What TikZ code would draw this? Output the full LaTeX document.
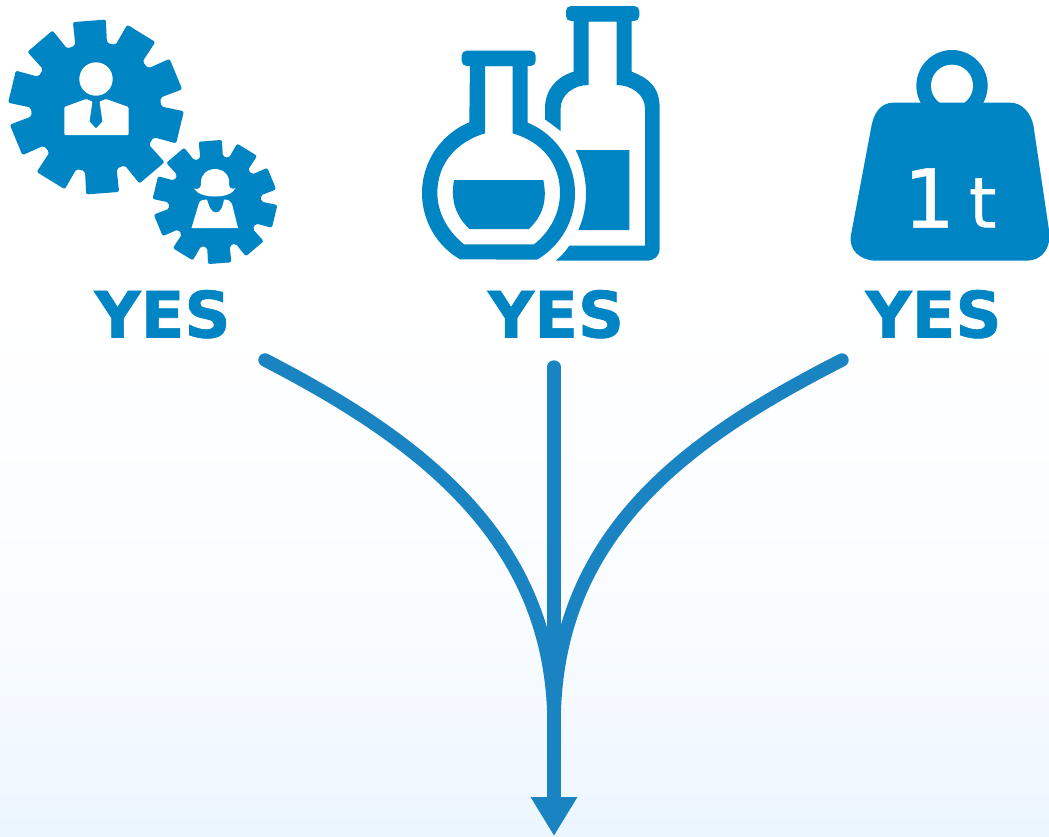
\documentclass[tikz,border=0pt]{standalone}
\usepackage{fontspec}
\setmainfont{DejaVu Sans}
\newfontfamily\heavyfont{DejaVu Sans}[BoldFeatures={FakeBold=1}]
\newfontfamily\tonnefont{DejaVu Sans}[FakeBold=0.6]
\usetikzlibrary{arrows.meta}
\definecolor{iconblue}{HTML}{0085C4}
\definecolor{flowblue}{HTML}{1A84C2}
\definecolor{midblue}{HTML}{F9FCFF}
\definecolor{paleblue}{HTML}{ECF6FF}
\tikzset{
  yeslabel/.style={text=iconblue,font=\fontsize{64}{64}\heavyfont\bfseries,anchor=base,inner sep=0pt},
  flowline/.style={draw=flowblue,line width=13.4pt,line cap=round},
  icon/.style={fill=iconblue,draw=none},
  cutout/.style={fill=white,draw=none}
}
\newcommand{\gearbody}{%
  \fill[icon,rounded corners=2pt] (-108.5:65)
    \foreach \k [evaluate=\k as \a using -94.4+36*\k] in {0,...,9}{
      -- (\a-14.1:65) -- (\a-10.8:88) -- (\a+10.8:88) -- (\a+14.1:65)
    } -- cycle;}
\begin{document}
\begin{tikzpicture}[x=1pt,y=-1pt]
\useasboundingbox (0,0) rectangle (1049,836);
\fill[white] (0,0) rectangle (1049,302);
\shade[top color=white,bottom color=midblue,draw=none] (0,300) rectangle (1049,620);
\shade[top color=midblue,bottom color=paleblue,draw=none] (0,619.5) rectangle (1049,836);

% gears
\begin{scope}[shift={(96,107)}]\gearbody\end{scope}
\begin{scope}[shift={(215,202)},scale=.71]\gearbody\end{scope}
% man
\fill[cutout] (96,79) circle[radius=16.7];
\fill[cutout,rounded corners=1pt] (64.3,135) -- (64.3,107) -- (86,99) -- (92.5,101.5) -- (89.5,121.5) -- (96,128.5) -- (102.5,121.5) -- (99.5,101.5) -- (106,99) -- (128.5,107) -- (128.5,135) -- cycle;
% woman
\fill[cutout] (194,188.5) .. controls (198,190) and (201.5,188) .. (201,183)
  .. controls (200.5,175) and (207,169) .. (215,169)
  .. controls (223,169) and (230,175) .. (229,183)
  .. controls (228.5,188) and (232,190) .. (235.5,188)
  .. controls (233,194) and (224,196.5) .. (215,196.5)
  .. controls (206,196.5) and (197,194) .. (194,188.5) -- cycle;
\fill[cutout] (191.5,228) -- (199,203) .. controls (200,200) and (204,199.5) .. (207,199.5)
  .. controls (209,206) and (211,212.5) .. (216,212.5)
  .. controls (221,212.5) and (223,206) .. (224,199.5)
  .. controls (228,199.5) and (231,201) .. (232,204) -- (238,228) -- cycle;

% flask and bottle, in 3x zoom coordinates
\begin{scope}[shift={(410,0)},scale=1/3]
  \fill[icon,rounded corners=5pt] (468,18) rectangle (688,63);
  \fill[icon]
    (491,40) -- (665,40) -- (665,215) .. controls (722,237) and (749,265) .. (749,325)
    -- (749,745) .. controls (749,768) and (733,782) .. (710,782) -- (437,782)
    .. controls (452,770) and (466,755) .. (478,737) -- (705,737) -- (705,325)
    .. controls (705,285) and (665,255) .. (620,255) -- (620,65) -- (536,65) -- (536,255)
    .. controls (490,255) and (452,285) .. (452,325) -- (452,393) -- (405,358) -- (405,325)
    .. controls (405,270) and (440,230) .. (491,215) -- cycle;
  \fill[icon] (497,450) -- (658,450) -- (658,690) -- (505,690)
    .. controls (537,620) and (537,530) .. (497,450) -- cycle;
  % flask
  \fill[icon,rounded corners=5pt] (155,152) rectangle (377,198);
  \fill[icon,even odd rule]
    (180,175) -- (353,175) -- (353,368) arc[start angle=-67.5,end angle=59.7,radius=230] -- (150,778)
    arc[start angle=120.3,end angle=247.5,radius=230] -- cycle
    (225,198) -- (225,400) .. controls (140,425) and (82,490) .. (82,578)
    .. controls (82,640) and (115,695) .. (162,733) -- (372,733)
    .. controls (420,695) and (450,640) .. (450,578)
    .. controls (450,490) and (395,425) .. (308,400) -- (308,198) -- cycle;
  \fill[icon] (132,540) -- (400,540) .. controls (412,600) and (400,645) .. (357,687)
    -- (178,687) .. controls (135,645) and (122,600) .. (132,540) -- cycle;
\end{scope}

% weight
\begin{scope}[shift={(840,40)},scale=1/3]
  \fill[icon] (336,137) circle[radius=107];
  \fill[cutout] (336,137) circle[radius=63];
  \fill[icon] (160,188) -- (510,188) .. controls (548,188) and (572,220) .. (580,255)
    -- (627,570) .. controls (635,625) and (605,662) .. (560,662) -- (110,662)
    .. controls (60,662) and (25,630) .. (33,585) -- (95,255)
    .. controls (103,215) and (125,188) .. (160,188) -- cycle;
\end{scope}
\node[text=white,font=\fontsize{81}{81}\tonnefont,anchor=base,inner sep=0pt] (tonne) at (950,227.5) {1\hspace{14pt}{\fontsize{70}{70}\selectfont t}};

% labels
\node[yeslabel] (yesa) at (162.5,337.5) {YES};
\node[yeslabel] (yesb) at (556,337.5) {YES};
\node[yeslabel] (yesc) at (933.5,337.5) {YES};

% connectors
\coordinate (starta) at (265,360);
\coordinate (startb) at (554,367);
\coordinate (startc) at (842,360);
\coordinate (merge) at (554,725);
\coordinate (tip) at (554,836);
\draw[flowline] (starta) .. controls (420,440) and (554,540) .. (merge);
\draw[flowline] (startc) .. controls (685,440) and (554,535) .. (merge);
\draw[flowline,-{Triangle[width=44pt,length=39pt,sharp]}] (startb) -- (tip);
\end{tikzpicture}
\end{document}
